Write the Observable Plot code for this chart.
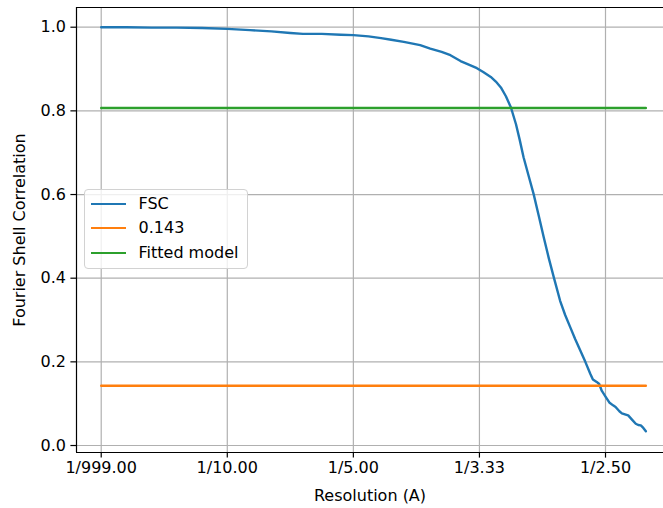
<!DOCTYPE html>
<html>
<head>
<meta charset="utf-8">
<script src="https://cdn.jsdelivr.net/npm/d3@7"></script>
<script src="https://cdn.jsdelivr.net/npm/@observablehq/plot@0.6"></script>
<style>
  html, body { margin: 0; padding: 0; background: #fff; }
  #wrap { position: relative; width: 663px; height: 508px; font-family: "DejaVu Sans", sans-serif; }
  #legend { position: absolute; left: 83.5px; top: 189px; width: 164px; height: 80px; box-sizing: border-box;
            border: 1px solid #d2d2d2; border-radius: 4px; background: rgba(255,255,255,0.8); }
  .row { position: absolute; left: 0; height: 20px; width: 100%; }
  .sw { position: absolute; left: 6px; top: 9px; width: 35px; height: 0; border-top: 2.4px solid; }
  .lb { position: absolute; left: 54px; top: 0; font-size: 16px; line-height: 20px; color: #000; white-space: nowrap; }
</style>
</head>
<body>
<div id="wrap"></div>
<script>
// Spatial frequency (1/A) and FSC values
const fscFreq = [0.000, 0.020, 0.040, 0.060, 0.080, 0.100, 0.118, 0.135, 0.150, 0.160, 0.175, 0.190, 0.200, 0.212, 0.222, 0.230, 0.240, 0.253, 0.261, 0.270, 0.277, 0.285, 0.292, 0.298, 0.303, 0.309, 0.313, 0.317, 0.321, 0.325, 0.329, 0.332, 0.335, 0.339, 0.343, 0.347, 0.351, 0.355, 0.359, 0.364, 0.368, 0.372, 0.376, 0.380, 0.384, 0.388, 0.390, 0.393, 0.395, 0.397, 0.400, 0.403, 0.406, 0.408, 0.411, 0.413, 0.416, 0.418, 0.421, 0.424, 0.426, 0.428, 0.430, 0.432];
const fscValue = [1.000, 1.000, 0.999, 0.999, 0.998, 0.996, 0.993, 0.990, 0.986, 0.984, 0.984, 0.982, 0.981, 0.978, 0.974, 0.970, 0.965, 0.957, 0.949, 0.941, 0.933, 0.919, 0.910, 0.902, 0.893, 0.881, 0.870, 0.856, 0.835, 0.808, 0.768, 0.730, 0.689, 0.645, 0.601, 0.550, 0.498, 0.448, 0.402, 0.346, 0.312, 0.283, 0.254, 0.227, 0.200, 0.171, 0.158, 0.152, 0.147, 0.131, 0.117, 0.103, 0.096, 0.092, 0.082, 0.077, 0.074, 0.072, 0.062, 0.052, 0.049, 0.048, 0.042, 0.034];
const thresholdValue = 0.143;
const fittedValue = 0.807;
const lineRange = [0.000, 0.432];

const seriesNames = ["FSC", "0.143", "Fitted model"];
const seriesColors = ["#1f77b4", "#ff7f0e", "#2ca02c"];

const xTicks = [0.0, 0.1, 0.2, 0.3, 0.4];
const xTickLabels = ["1/999.00", "1/10.00", "1/5.00", "1/3.33", "1/2.50"];
const yTicks = [0.0, 0.2, 0.4, 0.6, 0.8, 1.0];
const yTickLabels = ["0.0", "0.2", "0.4", "0.6", "0.8", "1.0"];

const xDomain = [-0.0196, 0.4460];
const yDomain = [-0.0167, 1.0471];

const fsc = fscFreq.map((f, i) => ({f, v: fscValue[i]}));
const thr = lineRange.map(f => ({f, v: thresholdValue}));
const fit = lineRange.map(f => ({f, v: fittedValue}));

const font = "DejaVu Sans";
const chart = Plot.plot({
  width: 663,
  height: 508,
  marginLeft: 76,
  marginRight: 0,
  marginTop: 7,
  marginBottom: 56,
  style: {fontFamily: font, fontSize: "16px", color: "#000", background: "transparent", overflow: "visible"},
  x: {domain: xDomain},
  y: {domain: yDomain},
  marks: [
    Plot.gridX(xTicks, {stroke: "#b0b0b0", strokeOpacity: 1, strokeWidth: 1.2}),
    Plot.gridY(yTicks, {stroke: "#b0b0b0", strokeOpacity: 1, strokeWidth: 1.2}),
    Plot.line(fsc, {x: "f", y: "v", stroke: seriesColors[0], strokeWidth: 2.4}),
    Plot.line(thr, {x: "f", y: "v", stroke: seriesColors[1], strokeWidth: 2.4}),
    Plot.line(fit, {x: "f", y: "v", stroke: seriesColors[2], strokeWidth: 2.4}),
    Plot.ruleX([xDomain[0]], {stroke: "#000", strokeWidth: 1.2}),
    Plot.ruleY(yDomain, {stroke: "#000", strokeWidth: 1.2}),
    Plot.axisX(xTicks, {tickFormat: (d, i) => xTickLabels[i], tickSize: 5.6, tickPadding: 4, strokeWidth: 1.2, fontSize: 16,
      label: "Resolution (A)", labelAnchor: "center", labelArrow: "none", labelOffset: 48}),
    Plot.axisY(yTicks, {tickFormat: (d, i) => yTickLabels[i], tickSize: 5.6, tickPadding: 5, strokeWidth: 1.2, fontSize: 16,
      label: "Fourier Shell Correlation", labelAnchor: "center", labelArrow: "none", labelOffset: 63})
  ]
});
const wrap = document.getElementById("wrap");
wrap.appendChild(chart);

const legend = document.createElement("div");
legend.id = "legend";
seriesNames.forEach((name, i) => {
  const row = document.createElement("div");
  row.className = "row";
  row.style.top = (3.5 + i * 24.8) + "px";
  const sw = document.createElement("div");
  sw.className = "sw";
  sw.style.borderTopColor = seriesColors[i];
  const lb = document.createElement("div");
  lb.className = "lb";
  lb.textContent = name;
  row.appendChild(sw);
  row.appendChild(lb);
  legend.appendChild(row);
});
wrap.appendChild(legend);
</script>
</body>
</html>
